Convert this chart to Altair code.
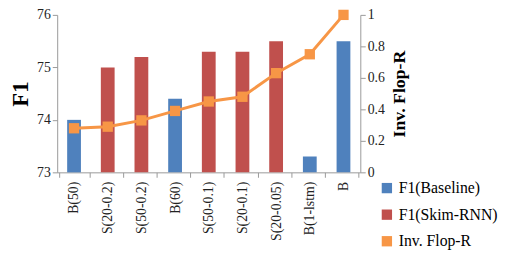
import altair as alt
import pandas as pd

categories = ["B(50)", "S(20-0.2)", "S(50-0.2)", "B(60)", "S(50-0.1)",
              "S(20-0.1)", "S(20-0.05)", "B(1-lstm)", "B"]
f1_values = [74.0, 75.0, 75.2, 74.4, 75.3, 75.3, 75.5, 73.3, 75.5]
groups = ["F1(Baseline)", "F1(Skim-RNN)", "F1(Skim-RNN)", "F1(Baseline)",
          "F1(Skim-RNN)", "F1(Skim-RNN)", "F1(Skim-RNN)", "F1(Baseline)", "F1(Baseline)"]
inv_flop = [0.28, 0.29, 0.33, 0.39, 0.45, 0.48, 0.63, 0.75, 1.0]

series_names = ["F1(Baseline)", "F1(Skim-RNN)", "Inv. Flop-R"]
series_colors = ["#4F81BD", "#C0504D", "#F79646"]

df = pd.DataFrame({
    "cat": categories,
    "f1": f1_values,
    "group": groups,
    "flop": inv_flop,
    "line_series": ["Inv. Flop-R"] * len(categories),
})

FONT = "Liberation Serif"
color_scale = alt.Scale(domain=series_names, range=series_colors)

x_enc = alt.X("cat:N", sort=categories, title=None,
              axis=alt.Axis(labelAngle=270, labelFontSize=14,
                            labelColor="#222", tickBand="extent", tickSize=5,
                            domainColor="#999", tickColor="#999", labelPadding=4))

bars = alt.Chart(df).mark_bar(size=14).encode(
    x=x_enc,
    y=alt.Y("f1:Q", scale=alt.Scale(domain=[73, 76], zero=False, nice=False),
            title="F1",
            axis=alt.Axis(values=[73, 74, 75, 76], format="d", tickSize=5,
                          labelFontSize=14, labelColor="#222",
                          domainColor="#999", tickColor="#999",
                          titleFontSize=23, titleFontWeight="bold",
                          titleColor="#000", titleX=-37, titleY=80,
                          titleAngle=270, titleBaseline="middle")),
    y2=alt.datum(73),
    color=alt.Color("group:N", scale=color_scale, title=None,
                    legend=alt.Legend(orient="none", legendX=327, legendY=168,
                                      symbolType="square", symbolSize=110,
                                      labelFontSize=16,
                                      labelColor="#000", rowPadding=11,
                                      symbolStrokeWidth=0)),
)

line_base = alt.Chart(df).encode(
    x=alt.X("cat:N", sort=categories),
    y=alt.Y("flop:Q", scale=alt.Scale(domain=[0, 1], nice=False),
            title="Inv. Flop-R",
            axis=alt.Axis(orient="right", values=[0, 0.2, 0.4, 0.6, 0.8, 1],
                          format="~g",
                          tickSize=5, labelFontSize=14,
                          labelColor="#222", domainColor="#999", tickColor="#999",
                          titleFontSize=18, titleFontWeight="bold",
                          titleColor="#000", titleAngle=270, titleX=40, titleY=80,
                          titleBaseline="middle")),
    color=alt.Color("line_series:N", scale=color_scale, legend=None),
)
line = line_base.mark_line(strokeWidth=3)
pts = line_base.mark_point(shape="square", filled=True, size=110, opacity=1)

chart = alt.layer(bars, line + pts).resolve_scale(y="independent").properties(
    width=308, height=160,
    autosize=alt.AutoSizeParams(type="none"),
    padding={"left": 50, "top": 5, "right": 146, "bottom": 83},
).configure(font=FONT).configure_view(stroke=None).configure_axis(
    grid=False, labelFont=FONT, titleFont=FONT
).configure_legend(labelFont=FONT)

chart.save("out.html", embed_options={"renderer": "svg", "actions": False})
